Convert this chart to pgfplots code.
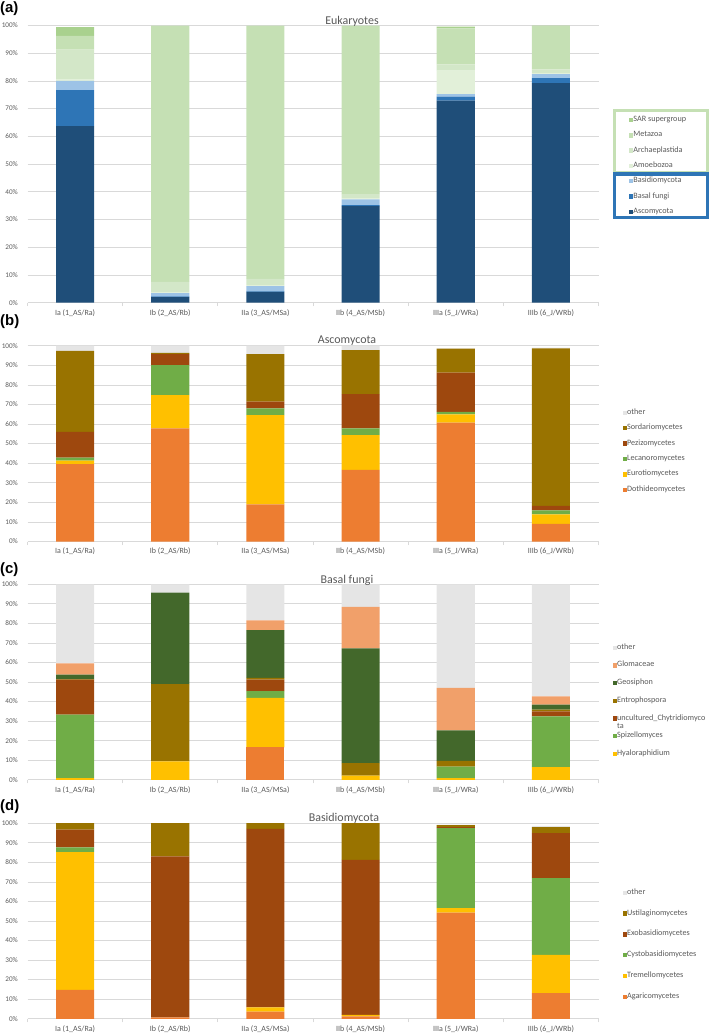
\documentclass[border=0pt]{standalone}
\usepackage{pgfplots}
\pgfplotsset{compat=1.18}
\usepackage{fontspec}
\setmainfont{Carlito}
\newfontfamily\arialfont{Liberation Sans}

\definecolor{gridc}{HTML}{D9D9D9}
\definecolor{labc}{HTML}{595959}
\definecolor{asco}{HTML}{1F4E79}
\definecolor{basal}{HTML}{2E75B6}
\definecolor{basidio}{HTML}{9DC3E6}
\definecolor{amoeb}{HTML}{E2F0D9}
\definecolor{archae}{HTML}{D3E7C8}
\definecolor{metaz}{HTML}{C5E0B4}
\definecolor{sar}{HTML}{A9D18E}
\definecolor{corange}{HTML}{ED7D31}
\definecolor{cyellow}{HTML}{FFC000}
\definecolor{cgreen}{HTML}{70AD47}
\definecolor{cbrown}{HTML}{9E480E}
\definecolor{colive}{HTML}{997300}
\definecolor{cgray}{HTML}{E5E5E5}
\definecolor{cdgreen}{HTML}{43682B}
\definecolor{csalmon}{HTML}{F1A06A}

\pgfplotsset{
  panel/.style={
    scale only axis, width=571bp,
    ybar stacked, bar width=0.4,
    xmin=-0.5, xmax=5.5, ymin=0, ymax=100,
    xtick={0,...,5},
    xticklabels={Ia (1\_AS/Ra), Ib (2\_AS/Rb), IIa (3\_AS/MSa), IIb (4\_AS/MSb), IIIa (5\_J/WRa), IIIb (6\_J/WRb)},
    minor xtick={-0.5,0.5,...,5.5},
    ytick={0,10,...,100},
    /pgf/number format/assume math mode=true,
    yticklabel={\pgfmathprintnumber{\tick}\%},
    ymajorgrids, grid style={draw=gridc, line width=0.75bp},
    axis x line*=bottom, axis y line*=left,
    x axis line style={draw=gridc, line width=0.75bp, -},
    y axis line style={draw=none, -},
    major tick length=0pt, minor tick length=3.5bp, tick align=outside,
    minor x tick style={draw=gridc, line width=0.75bp},
    major x tick style={draw=none},
    ytick style={draw=none},
    xticklabel style={font=\fontsize{8}{9}\selectfont, text=labc, anchor=base, inner sep=0pt, yshift=-12.3bp},
    yticklabel style={font=\fontsize{7.2}{8}\selectfont, text=labc, anchor=base east, inner sep=0pt, xshift=-9.5bp, yshift=-2.3bp},
    legend cell align=left, reverse legend,
    legend image code/.code={\fill[##1] (0bp,-2.2bp) rectangle (4.4bp,2.2bp);},
    legend style={draw=none, fill=none, inner sep=0pt, outer sep=0pt,
      font=\fontsize{8.2}{9.5}\selectfont, anchor=north west,
      nodes={inner sep=0pt, text height=5.5bp, text depth=2.5bp, text=labc},
      /tikz/every even column/.append style={column sep=2.5bp}},
  },
  bar/.style={fill=#1, draw=none},
}

\begin{document}
\begin{tikzpicture}
\path[use as bounding box] (0,0) rectangle (709bp,-1034bp);

% ---------------- (a) Eukaryotes ----------------
\begin{axis}[panel, at={(27.5bp,-302.7bp)}, anchor=south west, height=277.2bp,
  legend style={at={(1.0534,0.6735)}, row sep=7.3bp}]
\addplot[bar=asco] coordinates {(0,63.7) (1,2.0) (2,3.9) (3,34.8) (4,72.9) (5,79.2)};
\addlegendentry{Ascomycota}
\addplot[bar=basal] coordinates {(0,13.0) (1,0.3) (2,0.2) (3,0.4) (4,1.4) (5,1.8)};
\addlegendentry{Basal fungi}
\addplot[bar=basidio] coordinates {(0,3.3) (1,1.2) (2,1.9) (3,2.1) (4,0.9) (5,1.5)};
\addlegendentry{Basidiomycota}
\addplot[bar=amoeb] coordinates {(0,0.5) (1,0.3) (2,0.3) (3,0.4) (4,8.5) (5,0.3)};
\addlegendentry{Amoebozoa}
\addplot[bar=archae] coordinates {(0,10.8) (1,3.7) (2,2.3) (3,1.5) (4,2.3) (5,1.4)};
\addlegendentry{Archaeplastida}
\addplot[bar=metaz] coordinates {(0,5.0) (1,92.5) (2,91.4) (3,60.8) (4,13.0) (5,15.4)};
\addlegendentry{Metazoa}
\addplot[bar=sar] coordinates {(0,3.1) (1,0) (2,0) (3,0) (4,0.6) (5,0.4)};
\addlegendentry{SAR supergroup}
\end{axis}

% ---------------- (b) Ascomycota ----------------
\begin{axis}[panel, at={(27.5bp,-541.6bp)}, anchor=south west, height=195.9bp,
  legend style={at={(1.0424,0.6784)}, row sep=7.4bp}]
\addplot[bar=corange] coordinates {(0,39.5) (1,57.8) (2,19.0) (3,36.6) (4,60.7) (5,9.0)};
\addlegendentry{Dothideomycetes}
\addplot[bar=cyellow] coordinates {(0,1.8) (1,17.0) (2,45.6) (3,17.8) (4,4.3) (5,4.9)};
\addlegendentry{Eurotiomycetes}
\addplot[bar=cgreen] coordinates {(0,1.6) (1,15.3) (2,3.4) (3,3.4) (4,1.2) (5,2.1)};
\addlegendentry{Lecanoromycetes}
\addplot[bar=cbrown] coordinates {(0,13.1) (1,5.6) (2,3.4) (3,17.5) (4,20.0) (5,2.2)};
\addlegendentry{Pezizomycetes}
\addplot[bar=colive] coordinates {(0,41.4) (1,0.7) (2,24.3) (3,22.5) (4,12.3) (5,80.4)};
\addlegendentry{Sordariomycetes}
\addplot[bar=cgray] coordinates {(0,2.6) (1,3.6) (2,4.3) (3,2.2) (4,0.2) (5,0.4)};
\addlegendentry{other}
\end{axis}

% ---------------- (c) Basal fungi ----------------
\begin{axis}[panel, at={(27.5bp,-779.8bp)}, anchor=south west, height=195.5bp,
  legend style={at={(1.0249,0.6962)}, row sep=9.7bp}]
\addplot[bar=corange, forget plot] coordinates {(0,0) (1,0) (2,16.6) (3,0) (4,0) (5,0)};
\addplot[bar=cyellow] coordinates {(0,0.9) (1,9.4) (2,25.3) (3,2.1) (4,0.9) (5,6.5)};
\addlegendentry{Hyaloraphidium}
\addplot[bar=cgreen] coordinates {(0,32.4) (1,0) (2,3.4) (3,0) (4,5.9) (5,26.0)};
\addlegendentry{Spizellomyces}
\addplot[bar=cbrown] coordinates {(0,18.0) (1,0) (2,6.0) (3,0) (4,0) (5,2.5)};
\addlegendentry{\begin{tabular}[t]{@{}l@{}}uncultured\_Chytridiomyco\\[-0.5bp]ta\end{tabular}}
\addplot[bar=colive] coordinates {(0,0.2) (1,39.6) (2,0.8) (3,6.4) (4,2.9) (5,0.9)};
\addlegendentry{Entrophospora}
\addplot[bar=cdgreen] coordinates {(0,2.3) (1,46.7) (2,24.5) (3,58.7) (4,15.6) (5,2.6)};
\addlegendentry{Geosiphon}
\addplot[bar=csalmon] coordinates {(0,5.7) (1,0) (2,4.9) (3,21.3) (4,21.7) (5,4.2)};
\addlegendentry{Glomaceae}
\addplot[bar=cgray] coordinates {(0,40.5) (1,4.3) (2,18.5) (3,11.5) (4,53.0) (5,57.3)};
\addlegendentry{other}
\end{axis}

% ---------------- (d) Basidiomycota ----------------
\begin{axis}[panel, at={(27.5bp,-1018.8bp)}, anchor=south west, height=195.6bp,
  legend style={at={(1.0424,0.6651)}, row sep=12.8bp}]
\addplot[bar=corange] coordinates {(0,14.8) (1,0.7) (2,3.7) (3,1.2) (4,54.3) (5,13.1)};
\addlegendentry{Agaricomycetes}
\addplot[bar=cyellow] coordinates {(0,70.4) (1,0) (2,2.1) (3,0.8) (4,2.3) (5,19.6)};
\addlegendentry{Tremellomycetes}
\addplot[bar=cgreen] coordinates {(0,2.5) (1,0) (2,0) (3,0) (4,40.9) (5,39.2)};
\addlegendentry{Cystobasidiomycetes}
\addplot[bar=cbrown] coordinates {(0,9.0) (1,82.3) (2,91.3) (3,79.3) (4,0.5) (5,23.0)};
\addlegendentry{Exobasidiomycetes}
\addplot[bar=colive] coordinates {(0,3.3) (1,17.0) (2,2.9) (3,18.7) (4,1.0) (5,3.1)};
\addlegendentry{Ustilaginomycetes}
\addplot[bar=cgray] coordinates {(0,0) (1,0) (2,0) (3,0) (4,0.3) (5,0.6)};
\addlegendentry{other}
\end{axis}

% legend group frames of (a)
\draw[metaz, line width=3bp] (614.5bp,-110.5bp) rectangle (707.5bp,-172.5bp);
\draw[basal, line width=3.5bp] (614.7bp,-174bp) rectangle (707.3bp,-217.5bp);

% titles
\begin{scope}[every node/.style={font=\fontsize{12}{14}\selectfont, text=labc, anchor=base, inner sep=0pt}]
\node at (352bp,-24bp) {Eukaryotes};
\node at (347bp,-343.5bp) {Ascomycota};
\node at (347bp,-583bp) {Basal fungi};
\node at (344bp,-821.5bp) {Basidiomycota};
\end{scope}

% panel labels
\begin{scope}[every node/.style={font=\arialfont\bfseries\fontsize{15}{17}\selectfont, anchor=base west, inner sep=0pt}]
\node at (0bp,-12bp) {(a)};
\node at (0bp,-325.5bp) {(b)};
\node at (0bp,-573.5bp) {(c)};
\node at (0bp,-810bp) {(d)};
\end{scope}
\end{tikzpicture}
\end{document}
